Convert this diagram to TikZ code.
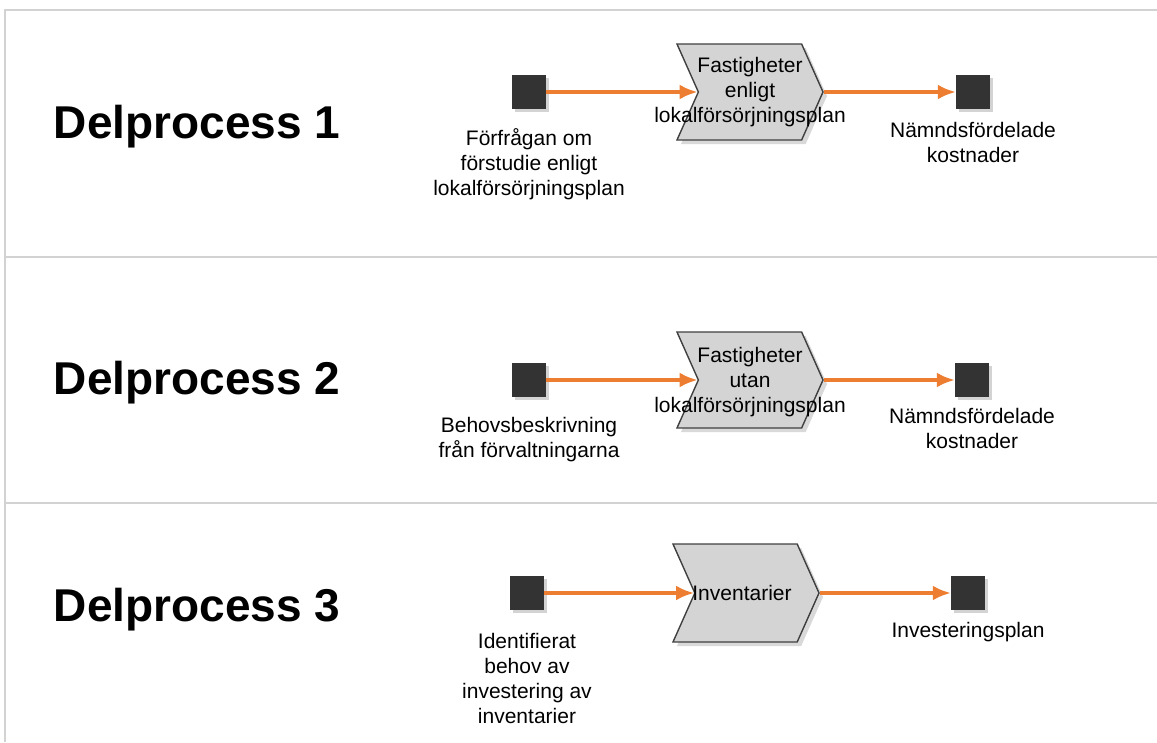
\documentclass[tikz,border=0pt]{standalone}
\usepackage{fontspec}
\setmainfont{Liberation Sans}
\usetikzlibrary{arrows.meta,positioning,shapes.symbols,shadows}
\definecolor{FlowOrange}{HTML}{ED7D31}
\definecolor{EventDark}{HTML}{333333}
\definecolor{StepGray}{HTML}{D4D4D4}
\definecolor{StepLine}{HTML}{404040}
\definecolor{LaneLine}{HTML}{D2D2D2}
\tikzset{
  flow/.style={-{Latex[length=18pt,width=15pt]}, line width=3.5pt, draw=FlowOrange},
  lane/.style={draw=LaneLine, line width=2.2pt},
  event/.style={draw=none, fill=EventDark, minimum size=34pt, inner sep=0pt,
                drop shadow={shadow xshift=3pt, shadow yshift=-3pt, opacity=0.35, fill=gray}},
  chev/.style={signal, signal to=east, signal from=west, signal pointer angle=132,
               draw=StepLine, fill=StepGray, line width=1.4pt, inner sep=0pt,
               minimum width=146pt, minimum height=96pt,
               drop shadow={shadow xshift=4pt, shadow yshift=-4pt, opacity=0.3, fill=gray}},
  steptext/.style={align=center, inner sep=0pt, font=\fontsize{21}{25}\selectfont},
  evlabel/.style={align=center, inner sep=0pt, anchor=north, font=\fontsize{21}{25}\selectfont},
  title/.style={inner sep=0pt, font=\fontsize{46}{50}\selectfont\bfseries},
}
\begin{document}
\begin{tikzpicture}[x=1pt,y=-1pt]
  \useasboundingbox (0,0) rectangle (1157,742);
  % lanes
  \draw[lane] (5,742) -- (5,10) -- (1157,10);
  \draw[lane] (5,257) -- (1157,257);
  \draw[lane] (5,503) -- (1157,503);
  % Delprocess 1
  \node[title] (t1) at (197,127) {Delprocess 1};
  \node[event] (in1) at (529,92) {};
  \node[chev] (c1) at (750,92) {};
  \node[steptext] (c1txt) at (750,92) {Fastigheter\\enligt\\lokalförsörjningsplan};
  \node[event] (out1) at (973,92) {};
  \node[evlabel,below=19pt of in1] (in1lab) {Förfrågan om\\förstudie enligt\\lokalförsörjningsplan};
  \node[evlabel,below=13pt of out1] (out1lab) {Nämndsfördelade\\kostnader};
  \draw[flow] (in1) -- (c1.west);
  \draw[flow] (c1.east) -- (out1);
  % Delprocess 2
  \node[title] (t2) at (197,383) {Delprocess 2};
  \node[event] (in2) at (529,380) {};
  \node[chev] (c2) at (750,380) {};
  \node[steptext] (c2txt) at (750,382) {Fastigheter\\utan\\lokalförsörjningsplan};
  \node[event] (out2) at (972,380) {};
  \node[evlabel,below=20pt of in2] (in2lab) {Behovsbeskrivning\\från förvaltningarna};
  \node[evlabel,below=11pt of out2] (out2lab) {Nämndsfördelade\\kostnader};
  \draw[flow] (in2) -- (c2.west);
  \draw[flow] (c2.east) -- (out2);
  % Delprocess 3
  \node[title] (t3) at (197,610) {Delprocess 3};
  \node[event] (in3) at (527,593) {};
  \node[chev,minimum height=98pt] (c3) at (746,593) {};
  \node[steptext] (c3txt) at (742,593) {Inventarier};
  \node[event] (out3) at (968,593) {};
  \node[evlabel,below=23pt of in3] (in3lab) {Identifierat\\behov av\\investering av\\inventarier};
  \node[evlabel,below=12pt of out3] (out3lab) {Investeringsplan};
  \draw[flow] (in3) -- (c3.west);
  \draw[flow] (c3.east) -- (out3);
\end{tikzpicture}
\end{document}
